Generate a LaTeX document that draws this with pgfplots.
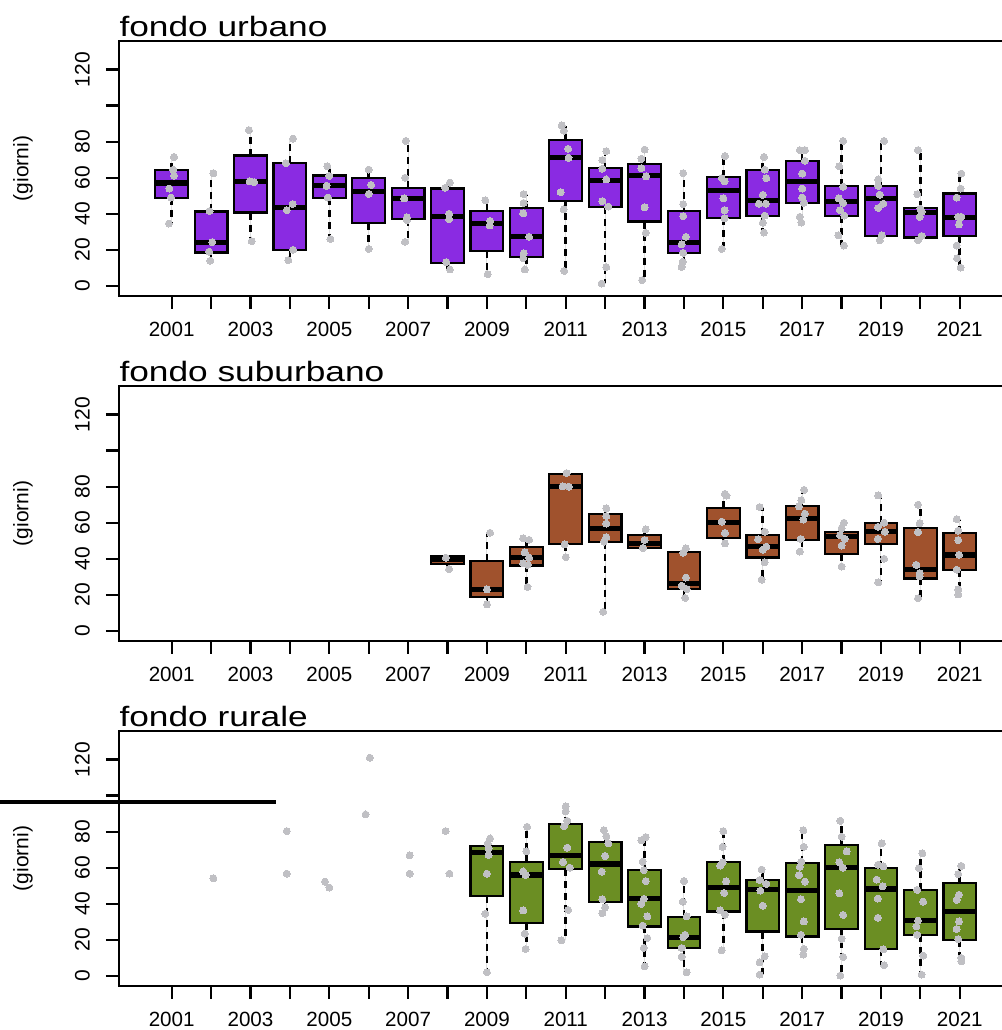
\documentclass[border=0pt]{standalone}
\usepackage{fontspec}
\setmainfont{Liberation Sans}
\usepackage{pgfplots}
\pgfplotsset{compat=1.18}
\usepgfplotslibrary{statistics}
\definecolor{purp}{RGB}{138,43,226}
\definecolor{sien}{RGB}{160,82,45}
\definecolor{oliv}{RGB}{107,142,35}
\definecolor{pt}{RGB}{192,192,196}
% first argument: position counted from 2000 (1 = 2001)
\newcommand{\bx}[7]{\addplot[draw=black, line width=1.1pt, fill=#7, boxplot prepared={draw position=#1, lower whisker=#2, lower quartile=#3, median=#4, upper quartile=#5, upper whisker=#6}] coordinates {};}
\pgfplotsset{
 panel/.style={
  width=446.8pt, height=127.5pt, scale only axis,
  xmin=-0.337, xmax=22.34, ymin=-5.6, ymax=135.8,
  axis line style={line width=1pt},
  xtick={1,...,21},
  xticklabels={2001,,2003,,2005,,2007,,2009,,2011,,2013,,2015,,2017,,2019,,2021},
  ytick={0,20,...,120}, yticklabels={0,20,40,60,80,,120},
  tick align=outside, tick pos=left, major tick length=6.5pt,
  tick style={line width=1.1pt, black},
  tick label style={font=\fontsize{10.3}{11}\selectfont},
  yticklabel style={rotate=90, anchor=south, font=\fontsize{10.5}{11}\selectfont},
  xticklabel shift=3pt, yticklabel shift=4.5pt,
  ylabel={(giorni)},
  ylabel style={at={(axis description cs:-0.1074,0.5)}, anchor=center, font=\fontsize{10.5}{11}\selectfont},
  title style={at={(axis description cs:0,1)}, anchor=base west, yshift=-3.7pt, xscale=1.26, inner sep=0pt, font=\fontsize{14}{14}\selectfont},
  boxplot/draw direction=y,
  boxplot/box extend=0.83, boxplot/whisker extend=0,
  boxplot/every median/.style={line width=2.6pt, black},
  boxplot/every whisker/.style={line width=1.3pt, black, dash pattern=on 3.5pt off 2.5pt},
  anchor=south west,
 },
 pts/.style={only marks, mark=*, mark size=1.75pt, mark options={fill=pt, draw=pt, line width=0pt}, x filter/.expression={x-2000}},
}
\begin{document}
\begin{tikzpicture}
\useasboundingbox (0,0) rectangle (501pt,515pt);
\clip (0,0) rectangle (501pt,515pt);
% ---------------- fondo urbano
\begin{axis}[panel, at={(59.5pt,367pt)}, title={fondo urbano}]
\bx{1}{34.6}{48.8}{57.1}{64.3}{71.5}{purp}
\bx{2}{13.9}{18.5}{24.1}{41.3}{62.5}{purp}
\bx{3}{24.8}{40.7}{57.9}{72.3}{86.4}{purp}
\bx{4}{14.3}{19.8}{43.5}{68.2}{81.7}{purp}
\bx{5}{26.1}{48.8}{55.5}{61.2}{66.4}{purp}
\bx{6}{20.5}{35}{52.5}{59.9}{64.5}{purp}
\bx{7}{24.4}{37}{48.3}{54.4}{80.4}{purp}
\bx{8}{9.1}{12.6}{38.7}{54}{57.3}{purp}
\bx{9}{6.5}{19.2}{34.6}{41.6}{47.4}{purp}
\bx{10}{9.1}{16.1}{27.2}{43.1}{50.9}{purp}
\bx{11}{8.3}{47}{71}{81}{88.6}{purp}
\bx{12}{1.3}{43.8}{58.3}{65.3}{74.7}{purp}
\bx{13}{3.2}{35.7}{61.4}{67.7}{75.6}{purp}
\bx{14}{10.5}{18.3}{23.9}{41.6}{62.5}{purp}
\bx{15}{20.5}{37.5}{53.1}{60.5}{72}{purp}
\bx{16}{29.6}{38.8}{47.5}{64.2}{71.5}{purp}
\bx{17}{35.1}{46}{58.1}{69.3}{75.3}{purp}
\bx{18}{22.4}{38.8}{47}{55.3}{80.4}{purp}
\bx{19}{24.4}{27.8}{48.5}{55.3}{80.4}{purp}
\bx{20}{25.3}{26.8}{40.5}{43.1}{75.3}{purp}
\bx{21}{10.2}{27.8}{38.1}{51.2}{62.3}{purp}
\addplot[pts] coordinates {
(2001.06,71.5)(2001.04,64.5)(2001.06,61.2)(2000.94,54)(2000.98,49)(2000.93,34.6)
(2002.06,62.5)(2001.96,41.5)(2002.03,24.3)(2001.95,19)(2001.98,14)
(2002.96,86.4)(2002.98,58)(2003.09,57.5)(2003.03,24.8)
(2004.08,81.7)(2003.9,68)(2004.07,45.4)(2003.92,42)(2004.08,20)(2003.96,14.3)
(2004.95,66.4)(2005,61)(2004.93,55.5)(2004.96,49)(2005.03,26)
(2006,64.5)(2006.06,56)(2006,51)(2006,20.5)
(2006.94,80.4)(2006.92,60)(2006.9,48.5)(2006.97,38)(2006.97,36.5)(2006.92,24.4)
(2008.06,57.3)(2007.94,54.4)(2008.04,40)(2008.04,37)(2007.97,13.2)(2008.06,9.1)
(2008.96,47.4)(2009.08,36)(2009.07,33.5)(2009.02,6.5)
(2009.93,50.9)(2009.93,46)(2009.92,40.2)(2010.07,27.2)(2009.93,18)(2009.92,15.4)(2009.96,9.1)
(2010.9,89)(2010.95,86)(2011.06,76)(2011.07,71)(2010.87,52)(2010.95,42.5)(2010.96,8.3)
(2012.03,74.7)(2011.93,69.8)(2011.93,65)(2012.03,59)(2011.93,47)(2012.08,44)(2012.03,10.4)(2011.91,1.3)
(2013,75.6)(2012.92,70.5)(2012.92,65.3)(2013.04,60.7)(2013,43.6)(2013.03,29.4)(2012.94,3.2)
(2013.98,62.5)(2013.98,45.3)(2013.98,38.7)(2014.05,27.2)(2013.94,23)(2013.98,18.3)(2013.97,13.4)(2013.94,10.5)
(2015.04,72)(2014.96,59.7)(2015.03,58)(2015,48.6)(2015.03,42)(2015.03,37.5)(2014.96,20.5)
(2016.03,71.5)(2016.05,64.5)(2016.09,59.8)(2016,50.5)(2015.9,45.6)(2016.08,45.6)(2016.05,39)(2016,35)(2016.03,29.6)
(2016.94,75.3)(2017.07,75.3)(2017.07,69.4)(2017,62.3)(2017,54)(2017,49)(2017.04,46)(2016.94,38.3)(2016.98,35.1)
(2018.04,80.4)(2017.94,66.3)(2018.04,55)(2017.93,48.5)(2018.04,46)(2017.96,42)(2018.07,39)(2017.92,28)(2018.06,22.4)
(2019.08,80.4)(2018.93,59)(2018.93,55.4)(2018.97,50.6)(2019.06,45.6)(2018.93,43.2)(2019.02,28)(2018.97,25.3)
(2019.94,75.3)(2019.92,50.9)(2020,42.8)(2020.03,41)(2019.98,38.3)(2020.03,27.7)(2019.94,25.3)
(2021.04,62.3)(2021.02,54)(2020.92,49)(2020.96,38.3)(2021.04,38.3)(2020.98,34.1)(2020.92,22.4)(2020.93,15.3)(2021.02,10.2)
};
\end{axis}
% ---------------- fondo suburbano
\begin{axis}[panel, at={(59.5pt,194.5pt)}, title={fondo suburbano}]
\bx{8}{34.3}{37}{39.4}{41.6}{41.6}{sien}
\bx{9}{14.7}{18.9}{22.9}{38.7}{54.4}{sien}
\bx{10}{24.4}{36.3}{40.9}{46.5}{51.3}{sien}
\bx{11}{40.9}{48}{80.2}{87}{87.5}{sien}
\bx{12}{10.6}{49.5}{56.8}{64.7}{68.1}{sien}
\bx{13}{45.8}{45.8}{48.6}{53.3}{56.2}{sien}
\bx{14}{18.3}{23.3}{26.2}{43.6}{45.8}{sien}
\bx{15}{48.2}{51.6}{59.9}{68.1}{76}{sien}
\bx{16}{28.4}{40.7}{46.7}{53.3}{68.7}{sien}
\bx{17}{44}{50.4}{62.3}{69.2}{78.2}{sien}
\bx{18}{35.7}{42.7}{52.2}{55}{59.9}{sien}
\bx{19}{26.9}{48}{55}{59.9}{75.1}{sien}
\bx{20}{18.1}{29.1}{33.9}{57.1}{70}{sien}
\bx{21}{20.2}{33.9}{42.1}{54.1}{61.9}{sien}
\addplot[pts] coordinates {
(2007.96,40.6)(2008.04,34.3)
(2009.08,54.4)(2009,23)(2009,14.7)
(2009.92,51.3)(2010.07,50.5)(2009.96,43.5)(2010.07,40.6)(2009.92,37.5)(2010.04,36.6)(2010.03,24.4)
(2011.02,87.5)(2010.92,80.2)(2011.08,80)(2010.97,48)(2011,40.9)
(2012.03,68)(2012.03,63.7)(2012.03,59.5)(2012.03,52)(2011.97,49.5)(2011.95,10.6)
(2013.03,56.3)(2013,50.4)(2012.96,46)
(2014.05,45.8)(2013.98,43.4)(2014.05,29.6)(2013.94,25)(2014.07,23.2)(2014.03,18.3)
(2015.04,76)(2015.08,75)(2014.96,60.6)(2015.04,54.3)(2015.04,48.5)
(2015.92,68.7)(2016.05,55)(2015.88,50.8)(2016.09,46.7)(2016,45)(2016.05,38)(2015.97,28.4)
(2017.05,78.2)(2016.98,72.5)(2016.92,69)(2017.07,65)(2017.03,61.7)(2016.96,51)(2016.94,44)
(2018.06,60)(2018,56.9)(2017.96,53)(2018.08,51)(2018,47.3)(2018,35.7)
(2018.93,75.1)(2019.08,60)(2018.92,57.7)(2019.1,55)(2018.92,51)(2019.08,40)(2018.93,26.9)
(2019.94,70)(2019.98,59.6)(2019.94,54.8)(2019.9,36.6)(2019.98,32)(2019.98,30.3)(2019.94,18.1)
(2020.92,62)(2020.96,55.6)(2020.96,50.4)(2020.98,42.2)(2020.92,33.9)(2020.96,23)(2020.96,20.2)
};
\end{axis}
% ---------------- fondo rurale
\begin{axis}[panel, at={(59.5pt,22pt)}, title={fondo rurale}]
\bx{9}{2}{44.5}{68.3}{72}{76.2}{oliv}
\bx{10}{14.9}{29.3}{56}{63.1}{82.7}{oliv}
\bx{11}{19.7}{59.1}{66.8}{84.3}{94.1}{oliv}
\bx{12}{34.8}{40.9}{62}{74.2}{80.8}{oliv}
\bx{13}{5.3}{27.4}{42.7}{58.7}{77.1}{oliv}
\bx{14}{2}{15.6}{21.3}{32.6}{52.7}{oliv}
\bx{15}{14.2}{35.7}{48.9}{63.1}{80.3}{oliv}
\bx{16}{0.7}{24.6}{47.7}{53.2}{59.1}{oliv}
\bx{17}{11.8}{21.9}{47.3}{62.4}{80.8}{oliv}
\bx{18}{0.2}{26.1}{60}{72.4}{86}{oliv}
\bx{19}{5.9}{14.9}{48.2}{59.7}{73.5}{oliv}
\bx{20}{0.7}{22.7}{30.7}{47.7}{68}{oliv}
\bx{21}{8.1}{19.7}{35.7}{51.7}{61}{oliv}
\addplot[pts] coordinates {
(2002.06,54.1)(2003.92,80.3)(2003.92,56.7)(2004.89,52.3)(2005,49)(2006.03,121)(2005.92,89.5)(2007.04,66.8)(2007.04,56.7)(2007.95,80.3)(2008.05,56.7)
(2009.08,76.2)(2009.02,73.4)(2009.04,70.7)(2009.04,67)(2009,56.7)(2008.96,34.5)(2009,2)
(2010.02,82.7)(2010,69)(2009.92,57.9)(2009.98,56)(2009.92,36.3)(2009.96,23.4)(2009.98,14.9)
(2011,94)(2011,91.3)(2011.04,86)(2010.96,83)(2011.04,71.1)(2010.93,63.2)(2011.1,60)(2011.06,36.6)(2010.89,19.7)
(2011.97,80.8)(2012.03,77.5)(2012.08,73.5)(2012,66.5)(2011.91,57.8)(2011.93,42.5)(2012,38)(2011.93,34.8)
(2013.03,77)(2012.92,75.2)(2012.95,63.3)(2012.98,58.7)(2013.03,52.6)(2012.98,42.7)(2012.92,40)(2013.07,33)(2012.95,27.9)(2013.07,21)(2012.98,15.5)(2013,5.3)
(2014,52.6)(2013.97,41.2)(2014.07,33)(2014.03,22.8)(2013.98,21.5)(2013.94,15.5)(2013.94,10.6)(2014.07,2)
(2015,80.3)(2014.98,71.6)(2014.98,63)(2014.92,61.2)(2015.07,52.4)(2015.02,46)(2014.92,36.3)(2015.04,34)(2014.96,14.2)
(2015.97,59)(2015.92,53.2)(2016.09,51)(2015.94,47.3)(2016,38.9)(2016.05,10.9)(2015.92,7.6)(2015.92,0.7)
(2017.03,80.8)(2017.04,71.6)(2016.98,63.3)(2016.94,60.5)(2016.92,55.9)(2017.07,52.3)(2016.97,42.5)(2017.04,30.2)(2016.97,22.8)(2017.04,15)(2017.03,11.8)
(2017.97,86)(2018,77.2)(2018.13,69)(2017.94,63)(2018.03,60)(2017.94,45.8)(2018.04,33.8)(2018,20.6)(2018.04,10.5)(2017.97,0.2)
(2019.02,73.5)(2018.93,61.7)(2019.06,60.8)(2018.89,53.4)(2019.04,49.7)(2018.92,42.9)(2018.92,32.2)(2019.06,14.7)(2019.08,5.9)
(2020.05,68)(2019.96,59.7)(2019.92,47.7)(2020.07,41.2)(2019.94,30.7)(2019.9,27.4)(2019.92,22.8)(2020.07,11.3)(2020.03,0.7)
(2021.04,61)(2020.96,56.5)(2020.98,45)(2020.92,42.2)(2020.98,30.2)(2020.92,26)(2020.96,20.4)(2021.04,10)(2021.04,8.1)
};
\end{axis}
\draw[line width=2pt] (0pt,113.85pt) -- (138pt,113.85pt);
\end{tikzpicture}
\end{document}
